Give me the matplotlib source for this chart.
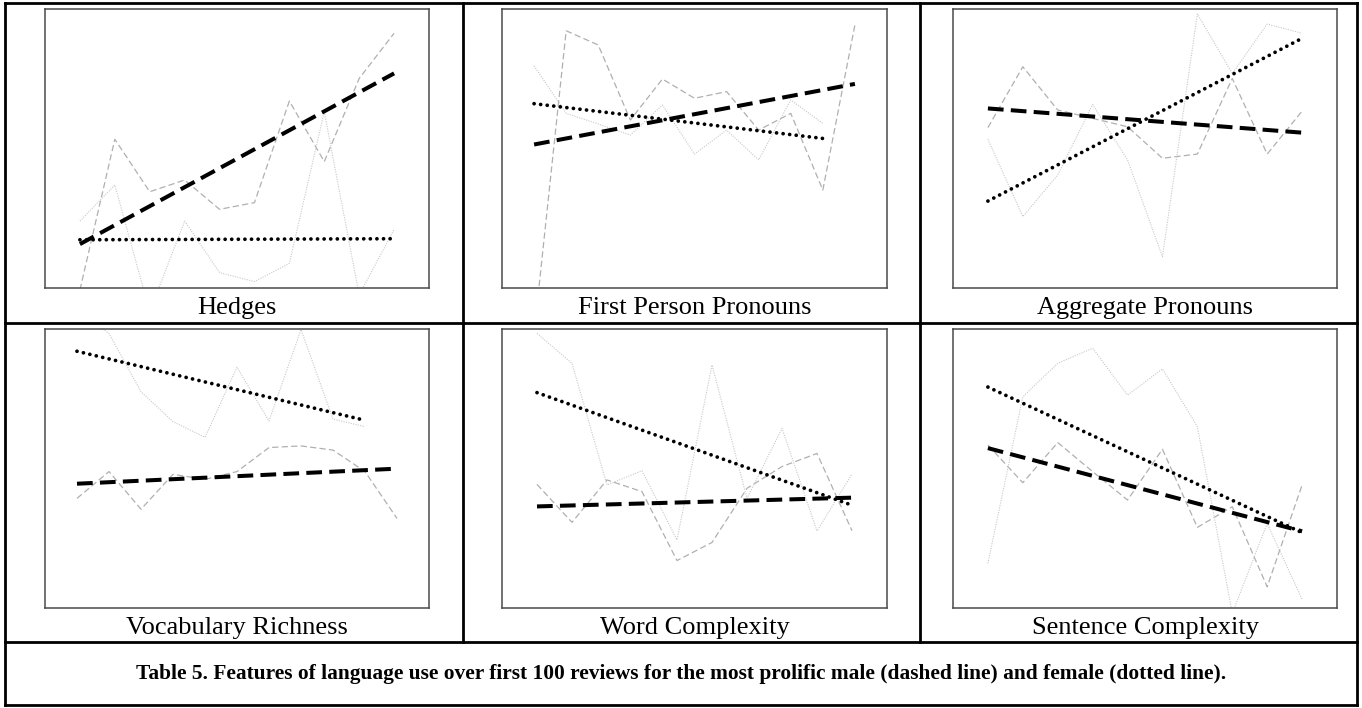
import numpy as np
import matplotlib
matplotlib.use("Agg")
import matplotlib.pyplot as plt
from matplotlib.lines import Line2D

# ---------------- data (values on a 0-100 scale, per 10-review block) ----------------
titles = ["Hedges", "First Person Pronouns", "Aggregate Pronouns",
          "Vocabulary Richness", "Word Complexity", "Sentence Complexity"]

hedges_male = [-0.7, 53.3, 34.5, 38.7, 28.2, 30.6, 67.0, 45.3, 75.1, 91.3]
hedges_female = [24.0, 36.9, -8.5, 24.0, 5.5, 2.3, 8.8, 63.2, -2.5, 21.0]

fpp_male = [-16.2, 92.2, 87.1, 60.2, 74.9, 68.0, 70.4, 56.6, 62.6, 35.1, 94.3]
fpp_female = [79.6, 62.6, 58.8, 54.8, 65.6, 48.0, 56.6, 45.9, 67.4, 59.0]

agg_male = [57.5, 79.3, 63.8, 60.8, 57.8, 46.5, 48.0, 75.1, 48.0, 63.4]
agg_female = [53.3, 25.6, 40.5, 65.8, 45.9, 11.2, 98.2, 76.9, 94.6, 91.3]

vocab_male = [39.3, 48.9, 35.4, 47.9, 46.1, 48.9, 57.5, 58.1, 56.6, 48.9, 32.1]
vocab_female = [106.8, 98.4, 77.5, 66.8, 61.2, 86.3, 67.0, 99.8, 67.7, 65.0]

word_male = [44.3, 30.7, 45.9, 41.7, 17.0, 23.5, 42.9, 50.7, 55.4, 27.7]
word_female = [98.4, 87.7, 44.1, 49.2, 24.4, 87.1, 39.3, 64.4, 27.6, 48.0]

sent_male = [58.4, 44.9, 59.3, 48.9, 38.7, 56.9, 28.9, 36.3, 7.6, 44.1]
sent_female = [16.0, 75.7, 87.7, 93.1, 76.3, 85.7, 65.0, -1.9, 30.3, 3.1]

male_series = [hedges_male, fpp_male, agg_male, vocab_male, word_male, sent_male]
female_series = [hedges_female, fpp_female, agg_female, vocab_female, word_female, sent_female]

caption = ("Table 5. Features of language use over first 100 reviews for the most "
           "prolific male (dashed line) and female (dotted line).")

# ---------------- figure ----------------
W, H = 1362, 708
fig = plt.figure(figsize=(W / 100, H / 100), dpi=100)
fig.patch.set_facecolor("white")
serif = ["Liberation Serif", "DejaVu Serif"]

col_px = [(45, 429), (502, 887), (953, 1337)]
row_px = [(9, 288), (329, 608)]
label_y_px = [308, 628]


def trend(x, y):
    k, b = np.polyfit(x, y, 1)
    xx = np.array([x[0], x[-1]], dtype=float)
    return xx, k * xx + b


for i, title in enumerate(titles):
    r, c = divmod(i, 3)
    x0, x1 = col_px[c]
    y0, y1 = row_px[r]
    ax = fig.add_axes([x0 / W, 1 - y1 / H, (x1 - x0) / W, (y1 - y0) / H])
    m = np.asarray(male_series[i], dtype=float)
    f = np.asarray(female_series[i], dtype=float)
    xm = np.arange(1, len(m) + 1)
    xf = np.arange(1, len(f) + 1)
    nmax = max(len(m), len(f))
    ax.plot(xm, m, color="#b0b0b0", lw=0.9, dashes=(5, 2.6))
    ax.plot(xf, f, color="#c8c8c8", lw=0.8, dashes=(1, 1.2))
    tx, ty = trend(xm, m)
    ax.plot(tx, ty, color="black", lw=2.9, dashes=(3.9, 1.8))
    tx, ty = trend(xf, f)
    ax.plot(tx, ty, color="black", lw=2.7, dashes=(0.01, 1.75),
            dash_capstyle="round")
    ax.set_xlim(0, nmax + 1)
    ax.set_ylim(0, 100)
    ax.set_xticks([])
    ax.set_yticks([])
    for s in ax.spines.values():
        s.set_color("#4a4a4a")
        s.set_linewidth(1.1)
    fig.text((x0 + x1) / 2 / W, 1 - label_y_px[r] / H, title, ha="center",
             va="center", fontsize=19, family=serif)

fig.text(681 / W, 1 - 674 / H, caption, ha="center", va="center",
         fontsize=15.4, fontweight="bold", family=serif)

# ---------------- table rules ----------------
def hline(y, xa, xb, lw=2.0):
    fig.add_artist(Line2D([xa / W, xb / W], [1 - y / H, 1 - y / H],
                          color="black", lw=lw, solid_capstyle="projecting"))


def vline(x, ya, yb, lw=2.0):
    fig.add_artist(Line2D([x / W, x / W], [1 - ya / H, 1 - yb / H],
                          color="black", lw=lw, solid_capstyle="projecting"))


hline(3, 5, 1357)
hline(323, 5, 1357)
hline(642, 5, 1357)
hline(705, 5, 1357)
vline(5, 3, 705)
vline(1357, 3, 705)
vline(463, 3, 642)
vline(920, 3, 642)

fig.savefig("out.png", dpi=100, facecolor="white")
